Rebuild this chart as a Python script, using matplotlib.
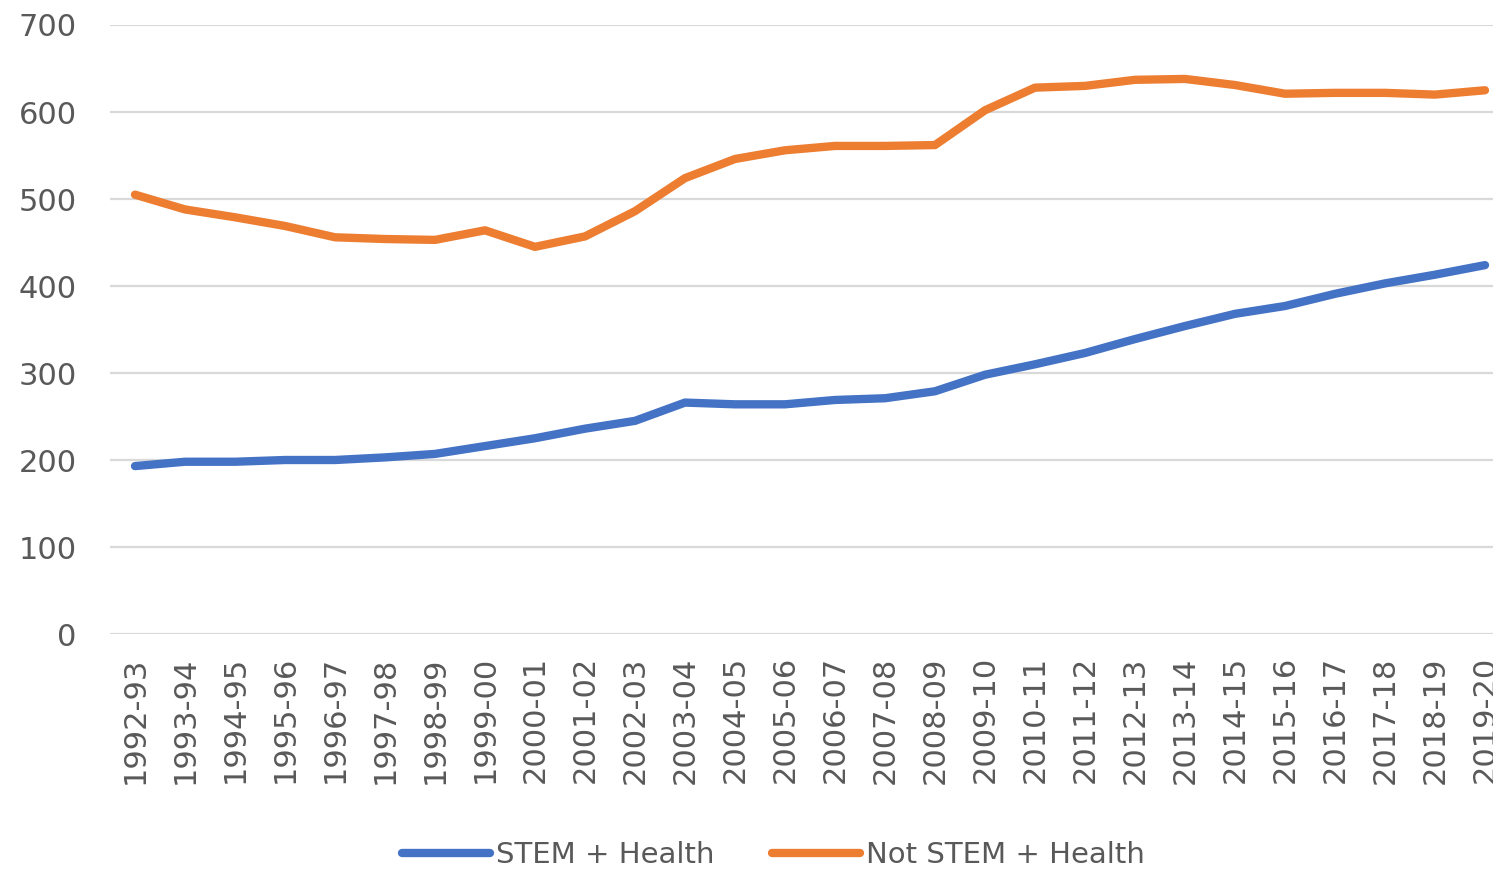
import matplotlib
matplotlib.use('Agg')
import matplotlib.pyplot as plt
import numpy as np

years = ['1992-93', '1993-94', '1994-95', '1995-96', '1996-97', '1997-98',
         '1998-99', '1999-00', '2000-01', '2001-02', '2002-03', '2003-04',
         '2004-05', '2005-06', '2006-07', '2007-08', '2008-09', '2009-10',
         '2010-11', '2011-12', '2012-13', '2013-14', '2014-15', '2015-16',
         '2016-17', '2017-18', '2018-19', '2019-20']

stem_health = [193, 198, 198, 200, 200, 203, 207, 216, 225, 236, 245, 266,
               264, 264, 269, 271, 279, 298, 310, 323, 339, 354, 368, 377,
               391, 403, 413, 424]

not_stem_health = [505, 488, 479, 469, 456, 454, 453, 464, 445, 457, 486, 524,
                   546, 556, 561, 561, 562, 602, 628, 630, 637, 638, 631, 621,
                   622, 622, 620, 625]

plt.rcParams['font.family'] = ['DejaVu Sans']
txt = '#595959'

fig = plt.figure(figsize=(14.93, 8.72), dpi=100)
ax = fig.add_axes([110 / 1493, 238 / 872, 1400 / 1493, 609 / 872])

x = np.arange(len(years))
ax.plot(x, stem_health, color='#4472C4', lw=6, solid_capstyle='round',
        solid_joinstyle='round', label='STEM + Health')
ax.plot(x, not_stem_health, color='#ED7D31', lw=6, solid_capstyle='round',
        solid_joinstyle='round', label='Not STEM + Health')

ax.set_xlim(-0.5, len(years) - 0.5)
ax.set_ylim(0, 700)
ax.set_yticks(range(0, 701, 100))
ax.set_xticks(x)
ax.set_xticklabels(years, rotation=90)
ax.grid(axis='y', color='#d9d9d9', lw=1.6)
ax.set_axisbelow(True)
for s in ax.spines.values():
    s.set_visible(False)
ax.tick_params(axis='both', length=0, labelsize=22, colors=txt)
ax.tick_params(axis='y', pad=24)
ax.tick_params(axis='x', pad=16)

fig.legend(loc='center', bbox_to_anchor=(0.518, 0.019), ncol=2, frameon=False,
           fontsize=21, labelcolor=txt, handlelength=3.0, handletextpad=0.2,
           columnspacing=2.0)

fig.savefig('out.png', dpi=100)
